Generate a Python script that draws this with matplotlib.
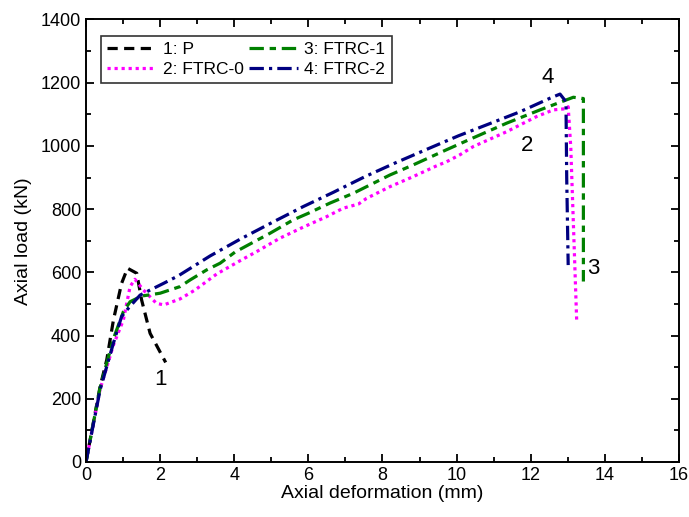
import matplotlib
matplotlib.use("Agg")
import matplotlib.pyplot as plt
from matplotlib.ticker import MultipleLocator

plt.rcParams['font.family'] = ['Liberation Sans', 'DejaVu Sans']

# Data
p_x = [0, 0.38, 0.56, 0.74, 0.96, 1.12, 1.37, 1.5, 1.73, 2.15]
p_y = [0, 238, 323, 449, 565, 613, 597, 513, 407, 315]

f0_x = [0, 0.38, 0.74, 1.01, 1.19, 1.32, 1.55, 1.9, 2.1, 2.54, 2.94, 3.53, 4.16, 4.61,
        5.23, 5.86, 6.49, 6.94, 7.35, 7.57, 8.2, 8.83, 9.46, 9.73, 10.09, 10.45, 11.35,
        12.16, 12.61, 12.97, 13.01, 13.08, 13.24]
f0_y = [0, 230, 370, 450, 555, 578, 544, 502, 497, 516, 544, 595, 637, 666,
        708, 743, 776, 803, 816, 834, 871, 903, 937, 950, 972, 998, 1045,
        1093, 1114, 1118, 1124, 995, 445]

f1_x = [0, 0.38, 0.74, 1.01, 1.19, 1.5, 2.0, 2.54, 2.81, 3.26, 3.62, 4.02, 4.43, 4.97,
        5.59, 6.0, 6.58, 7.21, 8.2, 8.83, 9.71, 10.36, 11.35, 12.25, 13.15, 13.33, 13.42, 13.42]
f1_y = [0, 235, 390, 476, 507, 525, 534, 555, 576, 608, 629, 664, 690, 724,
        766, 787, 819, 850, 908, 940, 987, 1021, 1072, 1114, 1154, 1151, 1150, 571]

f2_x = [0, 0.38, 0.74, 0.96, 1.14, 1.46, 1.73, 2.09, 2.49, 3.35, 4.16, 5.01, 5.86, 6.67,
        7.53, 8.36, 9.19, 10.05, 10.86, 11.71, 12.52, 12.79, 12.95, 12.97, 13.01]
f2_y = [0, 228, 376, 460, 486, 528, 544, 565, 589, 652, 705, 757, 808, 853,
        903, 947, 989, 1032, 1069, 1108, 1151, 1164, 1140, 900, 623]

labels = ["1: P", "2: FTRC-0", "3: FTRC-1", "4: FTRC-2"]
annot_text = ["1", "2", "3", "4"]
annot_x = [2.0, 11.9, 13.7, 12.45]
annot_y = [262, 1000, 612, 1215]

fig = plt.figure(figsize=(6.89, 5.17), dpi=100)
ax = fig.add_axes([0.1248, 0.1064, 0.8607, 0.8559])

lw = 2.3
ax.plot(p_x, p_y, color='black', lw=lw, dashes=(3.2, 2.0), label=labels[0])
ax.plot(f0_x, f0_y, color='#ff00ff', lw=lw, dashes=(1.0, 1.2), dash_capstyle='butt', label=labels[1])
ax.plot(f1_x, f1_y, color='#008000', lw=lw, dashes=(4.5, 1.8, 2.0, 1.8), label=labels[2])
ax.plot(f2_x, f2_y, color='#000080', lw=lw, dashes=(4.5, 1.6, 1.0, 1.6), label=labels[3])

for t, x, y in zip(annot_text, annot_x, annot_y):
    ax.text(x, y, t, fontsize=16, ha='center', va='center')

ax.set_xlim(0, 16)
ax.set_ylim(0, 1400)
ax.xaxis.set_major_locator(MultipleLocator(2))
ax.xaxis.set_minor_locator(MultipleLocator(1))
ax.yaxis.set_major_locator(MultipleLocator(200))
ax.yaxis.set_minor_locator(MultipleLocator(100))
ax.tick_params(which='both', direction='in', top=True, right=True, labelsize=13, width=1.3)
ax.tick_params(which='major', length=6)
ax.tick_params(which='minor', length=3.5)
for s in ax.spines.values():
    s.set_linewidth(1.4)

ax.set_xlabel("Axial deformation (mm)", fontsize=14, labelpad=1)
ax.set_ylabel("Axial load (kN)", fontsize=14, labelpad=6)

leg = ax.legend(ncol=2, loc='upper left', bbox_to_anchor=(0.011, 0.983), fontsize=12.5,
                frameon=True, fancybox=False, edgecolor='black', handlelength=2.8,
                columnspacing=0.3, handletextpad=0.4, labelspacing=0.3, borderpad=0.35)
leg.get_frame().set_linewidth(1.2)

fig.savefig("out.png", dpi=100)
